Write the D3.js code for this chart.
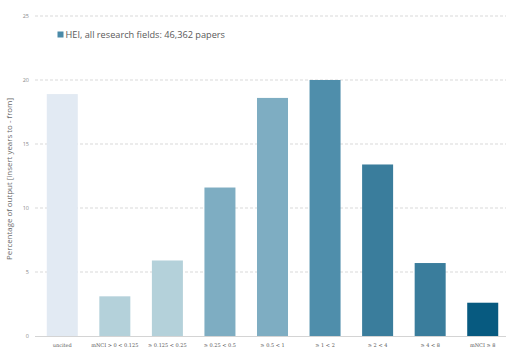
<!DOCTYPE html>
<html><head><meta charset="utf-8">
<script src="https://cdn.jsdelivr.net/npm/d3@7"></script>
<style>html,body{margin:0;padding:0;background:#fff;}svg{display:block;}</style>
</head><body>
<script>
const categories = ["uncited","mNCI > 0 < 0.125","\u2265 0.125 < 0.25","\u2265 0.25 < 0.5","\u2265 0.5 < 1","\u2265 1 < 2","\u2265 2 < 4","\u2265 4 < 8","mNCI \u2265 8"];
const values = [18.9, 3.1, 5.9, 11.6, 18.6, 20.0, 13.4, 5.7, 2.6];
const barColors = ["#e2eaf3","#b4d1da","#b4d1da","#7eadc2","#7eadc2","#4f8eab","#3a7d9c","#3a7d9c","#075a80"];
const yTicks = [0,5,10,15,20,25];
const seriesName = "HEI, all research fields: 46,362 papers";
const yTitle = "Percentage of output [insert years to - from]";

const W = 506, H = 349;
const svg = d3.select("body").append("svg").attr("width", W).attr("height", H);

const x = d3.scaleBand().domain(categories).range([36, 509]).paddingInner(0.41).paddingOuter(0.205);
const y = d3.scaleLinear().domain([0,25]).range([336,16]);

svg.append("g").selectAll("line").data(yTicks.filter(d=>d>0)).join("line")
  .attr("x1", 35).attr("x2", W).attr("y1", d=>y(d)).attr("y2", d=>y(d))
  .attr("stroke", "#cfcfcf").attr("stroke-width", 0.8).attr("stroke-dasharray", "3,2");

svg.append("g").selectAll("text").data(yTicks).join("text")
  .attr("x", 29).attr("y", d=>y(d)+2).attr("text-anchor","end")
  .attr("font-family","Open Sans, sans-serif").attr("font-size",5.5).attr("fill","#8a8a8a")
  .text(d=>d);

svg.append("g").selectAll("rect").data(values).join("rect")
  .attr("x",(d,i)=>x(categories[i])).attr("width", x.bandwidth())
  .attr("y", d=>y(d)).attr("height", d=>y(0)-y(d))
  .attr("fill",(d,i)=>barColors[i]);

svg.append("line").attr("x1",35).attr("x2",W).attr("y1",y(0)+0.5).attr("y2",y(0)+0.5)
  .attr("stroke","#d4d4d4").attr("stroke-width",1);

svg.append("g").selectAll("text").data(categories).join("text")
  .attr("x", d=>x(d)+x.bandwidth()/2).attr("y", 346.5).attr("text-anchor","middle")
  .attr("font-family","DejaVu Serif, serif").attr("font-size",5).attr("fill","#555")
  .text(d=>d);

svg.append("rect").attr("x",57.5).attr("y",31.5).attr("width",6).attr("height",6).attr("fill","#4a8aa8");
svg.append("text").attr("x",65.5).attr("y",38)
  .attr("font-family","Open Sans, sans-serif").attr("font-size",9.2).attr("fill","#595959")
  .text(seriesName);

svg.append("text").attr("transform","translate(12,179) rotate(-90)").attr("text-anchor","middle")
  .attr("font-family","Open Sans, sans-serif").attr("font-size",7.9).attr("fill","#6a6a6a")
  .text(yTitle);
</script>
</body></html>
